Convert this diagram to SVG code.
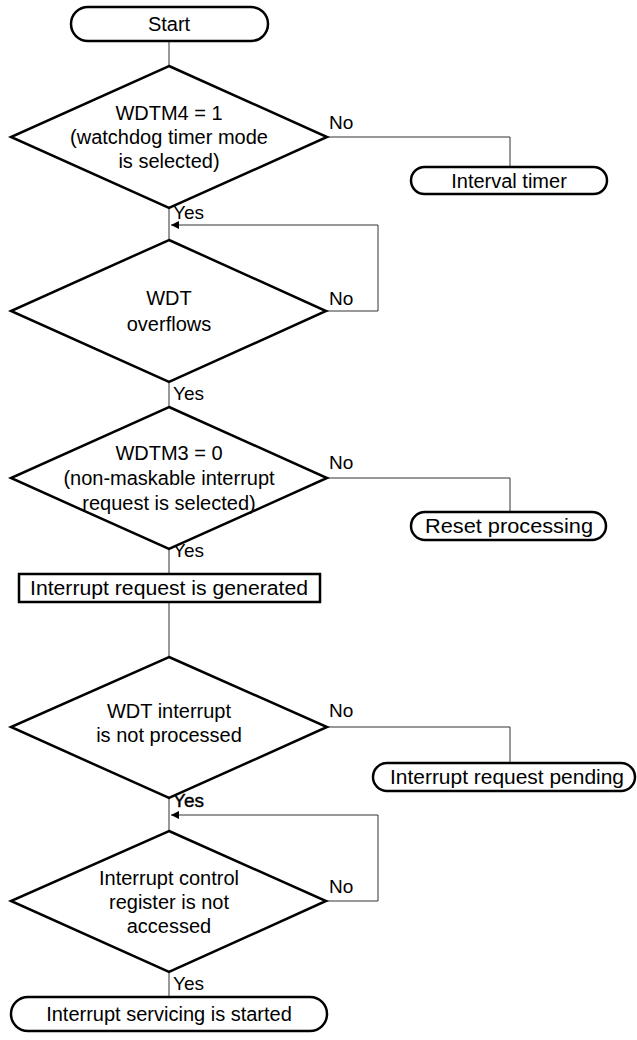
<svg xmlns="http://www.w3.org/2000/svg" width="637" height="1040" viewBox="0 0 637 1040">
<defs>
<style>
.s{fill:#fff;stroke:#000;stroke-width:2.5}
.c{fill:none;stroke:#333;stroke-width:1}
text{font-family:"Liberation Sans",Arial,sans-serif;font-size:20px;fill:#000}
.l{font-size:19px}
.m{text-anchor:middle}
.b{stroke:#000;stroke-width:0.4}
</style>
<marker id="ah" viewBox="0 0 10 10" refX="10" refY="5" markerWidth="10" markerHeight="8" markerUnits="userSpaceOnUse" orient="auto">
<path d="M0,0 L10,5 L0,10 z" fill="#000"/>
</marker>
</defs>
<g id="connectors">
<path class="c" d="M169,41 V66"/>
<path class="c" d="M327,137 H510 V167"/>
<path class="c" d="M169,208 V240"/>
<path class="c" d="M326,311 H378 V225 H171" marker-end="url(#ah)"/>
<path class="c" d="M169,382 V407"/>
<path class="c" d="M327,478 H510 V512"/>
<path class="c" d="M169,549 V574"/>
<path class="c" d="M169,602 V657"/>
<path class="c" d="M327,727 H510 V763"/>
<path class="c" d="M169,798 V831"/>
<path class="c" d="M326,901 H378 V815 H171" marker-end="url(#ah)"/>
<path class="c" d="M169,972 V997"/>
<text class="l" x="329" y="129">No</text>
<text class="l" x="173" y="219">Yes</text>
<text class="l" x="329" y="305">No</text>
<text class="l" x="173" y="400">Yes</text>
<text class="l" x="329" y="469">No</text>
<text class="l" x="173" y="557">Yes</text>
<text class="l" x="329" y="717">No</text>
<text class="l b" x="173" y="807">Yes</text>
<text class="l" x="329" y="893">No</text>
<text class="l" x="173" y="990">Yes</text>
</g>
<g id="start">
<rect class="s" x="71" y="7" width="197" height="34" rx="17"/>
<text class="m" x="169" y="31">Start</text>
</g>
<g id="d1">
<polygon class="s" points="169,66 327,137 169,208 11,137"/>
<text class="m" x="169" y="120">WDTM4 = 1</text>
<text class="m" x="169" y="144">(watchdog timer mode</text>
<text class="m" x="169" y="168">is selected)</text>
</g>
<g id="interval">
<rect class="s" x="411" y="167" width="196" height="27" rx="13.5"/>
<text class="m" x="509" y="188">Interval timer</text>
</g>
<g id="d2">
<polygon class="s" points="169,240 326,311 169,382 11,311"/>
<text class="m" x="169" y="305">WDT</text>
<text class="m" x="169" y="331">overflows</text>
</g>
<g id="d3">
<polygon class="s" points="169,407 327,478 169,549 11,478"/>
<text class="m" x="169" y="460">WDTM3 = 0</text>
<text class="m" x="169" y="485">(non-maskable interrupt</text>
<text class="m" x="169" y="510">request is selected)</text>
</g>
<g id="reset">
<rect class="s" x="411" y="512" width="195" height="28" rx="14"/>
<text class="m" x="509" y="533" textLength="168" lengthAdjust="spacingAndGlyphs">Reset processing</text>
</g>
<g id="gen">
<rect class="s" x="19" y="574" width="301" height="28"/>
<text class="m" x="169" y="595" textLength="278" lengthAdjust="spacingAndGlyphs">Interrupt request is generated</text>
</g>
<g id="d4">
<polygon class="s" points="169,657 327,727 169,798 11,727"/>
<text class="m" x="169" y="718">WDT interrupt</text>
<text class="m" x="169" y="742">is not processed</text>
</g>
<g id="pending">
<rect class="s" x="373" y="763" width="262" height="28" rx="14"/>
<text class="m" x="507" y="784" textLength="234" lengthAdjust="spacingAndGlyphs">Interrupt request pending</text>
</g>
<g id="d5">
<polygon class="s" points="169,831 326,901 169,972 11,901"/>
<text class="m" x="169" y="885">Interrupt control</text>
<text class="m" x="169" y="909">register is not</text>
<text class="m" x="169" y="933">accessed</text>
</g>
<g id="end">
<rect class="s" x="11" y="997" width="316" height="34" rx="17"/>
<text class="m" x="169" y="1021">Interrupt servicing is started</text>
</g>
</svg>
